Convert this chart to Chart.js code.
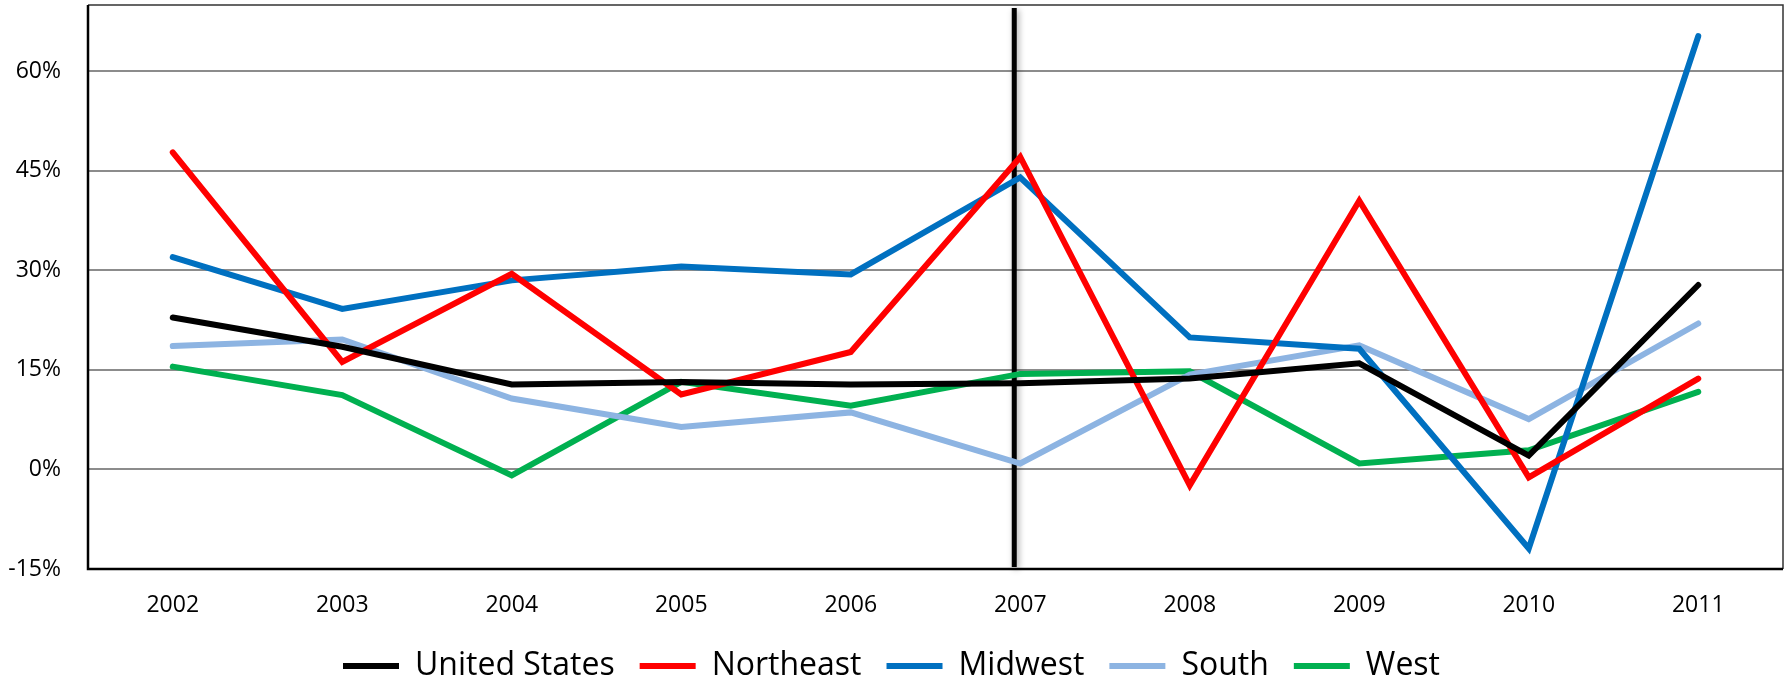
<!DOCTYPE html>
<html>
<head>
<meta charset="utf-8">
<script src="https://cdn.jsdelivr.net/npm/chart.js@4"></script>
<style>
  html, body { margin: 0; padding: 0; background: #fff; overflow: hidden; }
  #wrap { width: 1789px; height: 681px; }
</style>
</head>
<body>
<div id="wrap"><canvas id="grafico"></canvas></div>
<script>
// datos (variacion en %)
const anios = ['2002', '2003', '2004', '2005', '2006', '2007', '2008', '2009', '2010', '2011'];
const estadosUnidos = [22.9, 18.5, 12.8, 13.2, 12.8, 13.0, 13.7, 16.0, 2.1, 27.8];
const noreste = [47.8, 16.2, 29.5, 11.3, 17.7, 47.1, -2.4, 40.5, -1.2, 13.7];
const medioOeste = [32.0, 24.2, 28.5, 30.6, 29.4, 44.0, 19.9, 18.2, -11.9, 65.3];
const sur = [18.6, 19.6, 10.7, 6.4, 8.6, 0.9, 14.3, 18.7, 7.6, 22.0];
const oeste = [15.5, 11.2, -0.9, 13.2, 9.6, 14.4, 14.8, 0.9, 2.9, 11.7];
const ticksY = [-15, 0, 15, 30, 45, 60];
const anioMarcado = '2007';

function serie(nombre, datos, color) {
    return {
        label: nombre,
        data: datos,
        borderColor: color,
        backgroundColor: color,
        borderWidth: 6,
        borderCapStyle: 'round',
        borderJoinStyle: 'miter',
        pointRadius: 0,
        pointHoverRadius: 0,
        tension: 0,
        fill: false
    };
}

// marco del area y linea vertical en 2007
const marco = {
    id: 'marco',
    beforeDatasetsDraw(chart) {
        const ctx = chart.ctx;
        const a = chart.chartArea;
        const x = chart.scales.x.getPixelForValue(anios.indexOf(anioMarcado)) - 6;
        ctx.save();
        ctx.shadowColor = 'rgba(0,0,0,0.35)';
        ctx.shadowBlur = 6;
        ctx.shadowOffsetX = 2;
        ctx.shadowOffsetY = 2;
        ctx.strokeStyle = '#000';
        ctx.lineWidth = 5;
        ctx.beginPath();
        ctx.moveTo(x, a.top + 3);
        ctx.lineTo(x, a.bottom - 2);
        ctx.stroke();
        ctx.restore();
    },
    afterDraw(chart) {
        const ctx = chart.ctx;
        const a = chart.chartArea;
        ctx.save();
        ctx.strokeStyle = '#333';
        ctx.lineWidth = 1.5;
        ctx.beginPath();
        ctx.moveTo(a.left, a.top);
        ctx.lineTo(a.right, a.top);
        ctx.lineTo(a.right, a.bottom);
        ctx.stroke();
        ctx.strokeStyle = '#000';
        ctx.lineWidth = 2.5;
        ctx.beginPath();
        ctx.moveTo(a.left, a.top);
        ctx.lineTo(a.left, a.bottom);
        ctx.lineTo(a.right, a.bottom);
        ctx.stroke();
        ctx.restore();
    }
};

new Chart(document.getElementById('grafico').getContext('2d'), {
    type: 'line',
    data: {
        labels: anios,
        datasets: [
            serie('United States', estadosUnidos, '#000000'),
            serie('Northeast', noreste, '#FF0000'),
            serie('Midwest', medioOeste, '#0070C0'),
            serie('South', sur, '#8DB4E2'),
            serie('West', oeste, '#00B050')
        ]
    },
    options: {
        responsive: true,
        maintainAspectRatio: false,
        animation: false,
        layout: { padding: { top: 5, right: 6, left: 0, bottom: -11 } },
        plugins: {
            tooltip: { enabled: false },
            legend: {
                position: 'bottom',
                labels: {
                    usePointStyle: true,
                    pointStyle: 'line',
                    pointStyleWidth: 56,
                    color: '#000',
                    padding: 25,
                    font: { family: 'Open Sans, sans-serif', size: 32 }
                }
            }
        },
        scales: {
            x: {
                offset: true,
                grid: { display: false, drawTicks: false },
                border: { display: false },
                ticks: {
                    color: '#000',
                    padding: 23,
                    font: { family: 'Open Sans, sans-serif', size: 23 }
                },
                afterFit(s) {
                    s.height = 56;
                    s.paddingLeft = 0;
                    s.paddingRight = 0;
                }
            },
            y: {
                min: -15,
                max: 70,
                grid: { color: '#8c8c8c', lineWidth: 2, drawTicks: false },
                border: { display: false },
                afterBuildTicks(s) { s.ticks = ticksY.map(v => ({ value: v })); },
                ticks: {
                    color: '#000',
                    padding: 27,
                    font: { family: 'Open Sans, sans-serif', size: 23 },
                    callback: v => v + '%'
                },
                afterFit(s) {
                    s.width = 88;
                    s.paddingTop = 0;
                    s.paddingBottom = 0;
                }
            }
        }
    },
    plugins: [marco]
});
</script>
</body>
</html>
